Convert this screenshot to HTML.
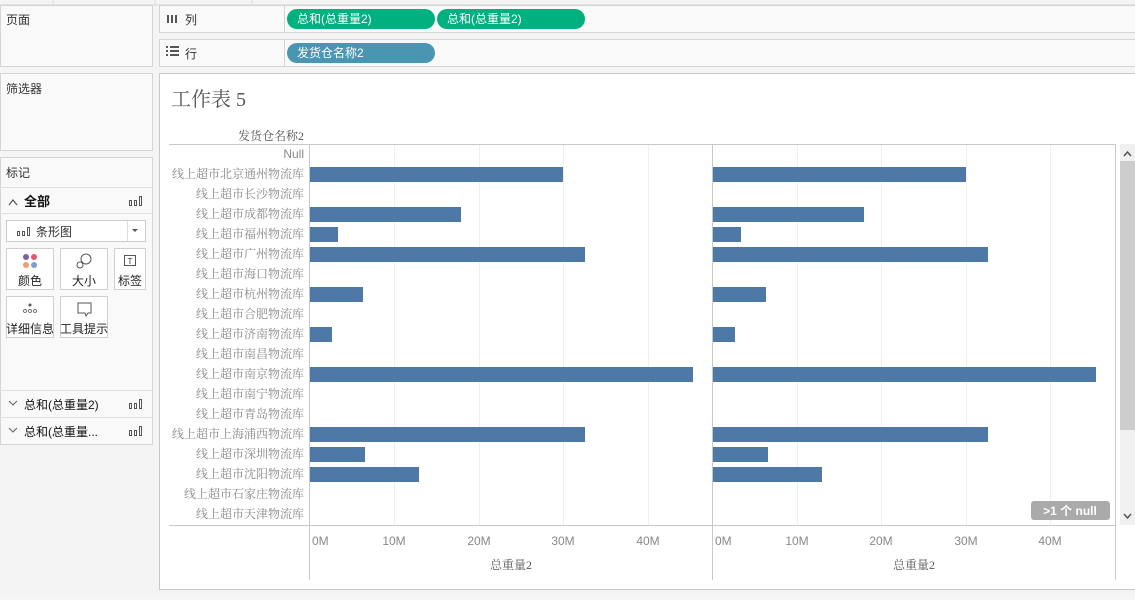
<!DOCTYPE html>
<html><head><meta charset="utf-8"><style>
body{margin:0;width:1135px;height:595px;overflow:hidden;background:#f5f5f5;}
svg text{font-family:"Liberation Sans","Noto Sans CJK SC",sans-serif;}
.s{font-family:"Liberation Serif","Noto Serif CJK SC",serif !important;}
</style></head><body>
<svg width="1135" height="595" xmlns="http://www.w3.org/2000/svg">
<rect width="1135" height="595" fill="#f4f4f4"/>
<!-- top strip -->
<line x1="0" y1="5" x2="1135" y2="5" stroke="#d4d4d4"/>
<g stroke="#dcdcdc"><line x1="53" y1="0" x2="53" y2="5"/><line x1="155" y1="0" x2="155" y2="5"/><line x1="252" y1="0" x2="252" y2="5"/></g>
<!-- left panels -->
<rect x="0.5" y="5.5" width="152" height="61" fill="#f9f9f9" stroke="#d4d4d4"/>
<text x="6" y="24" font-size="12" fill="#333">页面</text>
<rect x="0.5" y="73.5" width="152" height="77" fill="#f9f9f9" stroke="#d4d4d4"/>
<text x="6" y="93" font-size="12" fill="#333">筛选器</text>
<rect x="0.5" y="157.5" width="152" height="287" fill="#f9f9f9" stroke="#d4d4d4"/>
<text x="6" y="177" font-size="12" fill="#333">标记</text>
<line x1="0" y1="187.5" x2="152" y2="187.5" stroke="#e0e0e0"/>
<path d="M9 205 L13 200 L17 205" fill="none" stroke="#555" stroke-width="1.2"/>
<text x="24" y="206" font-size="13" font-weight="bold" fill="#111">全部</text>
<g fill="none" stroke="#555"><rect x="129.5" y="200.5" width="2" height="5"/><rect x="134.5" y="200.5" width="2" height="5"/><rect x="139.5" y="196.5" width="2" height="9"/></g>
<line x1="0" y1="213.5" x2="152" y2="213.5" stroke="#e0e0e0"/>
<rect x="6.5" y="220.5" width="139" height="21" fill="#fff" stroke="#ccc"/>
<line x1="127.5" y1="221" x2="127.5" y2="241" stroke="#ddd"/>
<path d="M132 229 L138 229 L135 232 Z" fill="#555"/>
<g fill="none" stroke="#555"><rect x="17.5" y="231.5" width="2" height="4"/><rect x="22.5" y="231.5" width="2" height="4"/><rect x="27.5" y="227.5" width="2" height="8"/></g>
<text x="36" y="236" font-size="12" fill="#333">条形图</text>
<g fill="#fff" stroke="#d0d0d0">
<rect x="6.5" y="248.5" width="47" height="41"/><rect x="60.5" y="248.5" width="47" height="41"/><rect x="114.5" y="248.5" width="31" height="41"/>
<rect x="6.5" y="296.5" width="47" height="41"/><rect x="60.5" y="296.5" width="47" height="41"/></g>
<circle cx="26" cy="257" r="3" fill="#7b5fa0"/><circle cx="34" cy="257" r="3" fill="#e5566a"/><circle cx="26" cy="265" r="3" fill="#f0a070"/><circle cx="34" cy="265" r="3" fill="#7b9fd0"/>
<text x="30" y="285" font-size="12" fill="#222" text-anchor="middle">颜色</text>
<circle cx="86" cy="259" r="5" fill="none" stroke="#555"/><circle cx="80" cy="265" r="3" fill="#fff" stroke="#555"/>
<text x="84" y="285" font-size="12" fill="#222" text-anchor="middle">大小</text>
<rect x="124.5" y="255.5" width="11" height="10" fill="none" stroke="#555"/><text x="130" y="264" font-size="8" fill="#333" text-anchor="middle">T</text>
<text x="130" y="285" font-size="12" fill="#222" text-anchor="middle">标签</text>
<circle cx="30" cy="305" r="1.5" fill="#555"/><g fill="none" stroke="#555" stroke-width="0.8"><circle cx="25" cy="311" r="1.5"/><circle cx="30" cy="311" r="1.5"/><circle cx="35" cy="311" r="1.5"/></g>
<text x="30" y="333" font-size="12" fill="#222" text-anchor="middle">详细信息</text>
<path d="M78 303 H91 V313 H88 L86 316 L85 313 H78 Z" fill="none" stroke="#555"/>
<text x="84" y="333" font-size="12" fill="#222" text-anchor="middle">工具提示</text>
<line x1="0" y1="390.5" x2="152" y2="390.5" stroke="#e0e0e0"/>
<line x1="0" y1="417.5" x2="152" y2="417.5" stroke="#e0e0e0"/>
<path d="M9 401 L13 405 L17 401" fill="none" stroke="#666" stroke-width="1.1"/>
<text x="24" y="409" font-size="12" fill="#111">总和(总重量2)</text>
<path d="M9 428 L13 432 L17 428" fill="none" stroke="#666" stroke-width="1.1"/>
<text x="24" y="436" font-size="12" fill="#111">总和(总重量...</text>
<g fill="none" stroke="#555"><rect x="129.5" y="403.5" width="2" height="5"/><rect x="134.5" y="403.5" width="2" height="5"/><rect x="139.5" y="399.5" width="2" height="9"/>
<rect x="129.5" y="430.5" width="2" height="5"/><rect x="134.5" y="430.5" width="2" height="5"/><rect x="139.5" y="426.5" width="2" height="9"/></g>
<!-- shelves -->
<rect x="159.5" y="5.5" width="980" height="27" fill="#f9f9f9" stroke="#d4d4d4"/>
<line x1="284.5" y1="5" x2="284.5" y2="32" stroke="#d4d4d4"/>
<g fill="#555"><rect x="167" y="15" width="2" height="8"/><rect x="171" y="15" width="2" height="8"/><rect x="175" y="15" width="2" height="8"/></g>
<text x="185" y="24" font-size="12" fill="#333">列</text>
<rect x="287" y="9" width="148" height="20" rx="10" fill="#00b07f"/>
<rect x="437" y="9" width="148" height="20" rx="10" fill="#00b07f"/>
<text x="297" y="23" font-size="12" fill="#fff">总和(总重量2)</text>
<text x="447" y="23" font-size="12" fill="#fff">总和(总重量2)</text>
<rect x="159.5" y="39.5" width="980" height="27" fill="#f9f9f9" stroke="#d4d4d4"/>
<line x1="284.5" y1="39" x2="284.5" y2="66" stroke="#d4d4d4"/>
<g fill="#555"><rect x="166" y="46" width="2" height="2"/><rect x="170" y="46" width="9" height="2"/><rect x="166" y="50" width="2" height="2"/><rect x="170" y="50" width="9" height="2"/><rect x="166" y="54" width="2" height="2"/><rect x="170" y="54" width="9" height="2"/></g>
<text x="185" y="58" font-size="12" fill="#333">行</text>
<rect x="287" y="43" width="148" height="20" rx="10" fill="#4996b2"/>
<text x="297" y="57" font-size="12" fill="#fff">发货仓名称2</text>
<!-- chart area -->
<rect x="159.5" y="73.5" width="980" height="516" fill="#fff" stroke="#c8c8c8"/>
<text x="171" y="106" font-size="20" fill="#555" class="s">工作表 5</text>
<text x="304" y="140" font-size="12" fill="#555" text-anchor="end" class="s">发货仓名称2</text>
<line x1="169" y1="144.5" x2="1115" y2="144.5" stroke="#c8c8c8"/>
<g stroke="#efefef">
<line x1="394.5" y1="145" x2="394.5" y2="525"/><line x1="479.5" y1="145" x2="479.5" y2="525"/><line x1="563.5" y1="145" x2="563.5" y2="525"/><line x1="648.5" y1="145" x2="648.5" y2="525"/>
<line x1="797.5" y1="145" x2="797.5" y2="525"/><line x1="881.5" y1="145" x2="881.5" y2="525"/><line x1="966.5" y1="145" x2="966.5" y2="525"/><line x1="1050.5" y1="145" x2="1050.5" y2="525"/>
</g>
<g stroke="#c8c8c8">
<line x1="309.5" y1="144" x2="309.5" y2="580"/><line x1="712.5" y1="144" x2="712.5" y2="580"/><line x1="1115.5" y1="144" x2="1115.5" y2="580"/>
<line x1="169" y1="525.5" x2="1115" y2="525.5"/>
</g>
<g font-size="12" fill="#888" text-anchor="end" class="s">
<text x="304" y="158" style="font-family:'Liberation Sans',sans-serif">Null</text>
<text x="304" y="178" class="s">线上超市北京通州物流库</text>
<text x="304" y="198" class="s">线上超市长沙物流库</text>
<text x="304" y="218" class="s">线上超市成都物流库</text>
<text x="304" y="238" class="s">线上超市福州物流库</text>
<text x="304" y="258" class="s">线上超市广州物流库</text>
<text x="304" y="278" class="s">线上超市海口物流库</text>
<text x="304" y="298" class="s">线上超市杭州物流库</text>
<text x="304" y="318" class="s">线上超市合肥物流库</text>
<text x="304" y="338" class="s">线上超市济南物流库</text>
<text x="304" y="358" class="s">线上超市南昌物流库</text>
<text x="304" y="378" class="s">线上超市南京物流库</text>
<text x="304" y="398" class="s">线上超市南宁物流库</text>
<text x="304" y="418" class="s">线上超市青岛物流库</text>
<text x="304" y="438" class="s">线上超市上海浦西物流库</text>
<text x="304" y="458" class="s">线上超市深圳物流库</text>
<text x="304" y="478" class="s">线上超市沈阳物流库</text>
<text x="304" y="498" class="s">线上超市石家庄物流库</text>
<text x="304" y="518" class="s">线上超市天津物流库</text>
</g>
<g fill="#4e79a7">
<rect x="310" y="167" width="253" height="15"/><rect x="713" y="167" width="253" height="15"/>
<rect x="310" y="207" width="151" height="15"/><rect x="713" y="207" width="151" height="15"/>
<rect x="310" y="227" width="28" height="15"/><rect x="713" y="227" width="28" height="15"/>
<rect x="310" y="247" width="275" height="15"/><rect x="713" y="247" width="275" height="15"/>
<rect x="310" y="287" width="53" height="15"/><rect x="713" y="287" width="53" height="15"/>
<rect x="310" y="327" width="22" height="15"/><rect x="713" y="327" width="22" height="15"/>
<rect x="310" y="367" width="383" height="15"/><rect x="713" y="367" width="383" height="15"/>
<rect x="310" y="427" width="275" height="15"/><rect x="713" y="427" width="275" height="15"/>
<rect x="310" y="447" width="55" height="15"/><rect x="713" y="447" width="55" height="15"/>
<rect x="310" y="467" width="109" height="15"/><rect x="713" y="467" width="109" height="15"/>
</g>
<rect x="1031" y="501" width="79" height="19" rx="3" fill="#aaa"/>
<text x="1070" y="515" font-size="12" font-weight="bold" fill="#fff" text-anchor="middle">&gt;1 个 null</text>
<!-- scrollbar -->
<rect x="1120" y="144" width="15" height="381" fill="#f0f0f0"/>
<rect x="1120" y="161" width="15" height="269" fill="#cdcdcd"/>
<path d="M1124 156 L1127.5 152 L1131 156" fill="none" stroke="#555" stroke-width="1.5"/>
<path d="M1124 514 L1127.5 518 L1131 514" fill="none" stroke="#555" stroke-width="1.5"/>
<g font-size="12" fill="#888">
<text x="312" y="545">0M</text><text x="394" y="545" text-anchor="middle">10M</text><text x="479" y="545" text-anchor="middle">20M</text><text x="563" y="545" text-anchor="middle">30M</text><text x="648" y="545" text-anchor="middle">40M</text>
<text x="715" y="545">0M</text><text x="797" y="545" text-anchor="middle">10M</text><text x="881" y="545" text-anchor="middle">20M</text><text x="966" y="545" text-anchor="middle">30M</text><text x="1050" y="545" text-anchor="middle">40M</text>
</g>
<text x="511" y="569" font-size="12" fill="#555" text-anchor="middle" class="s">总重量2</text>
<text x="914" y="569" font-size="12" fill="#555" text-anchor="middle" class="s">总重量2</text>
</svg>
</body></html>
